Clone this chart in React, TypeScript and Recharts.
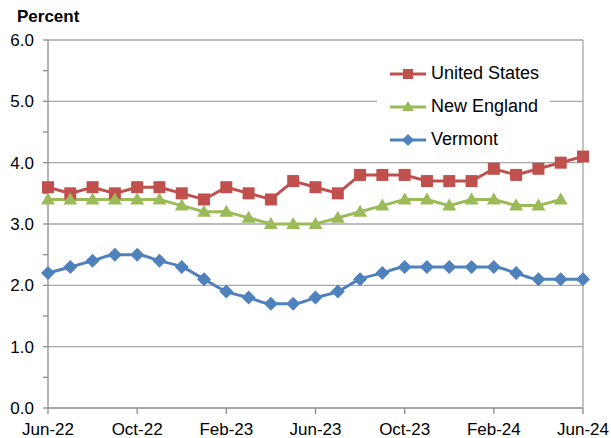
import React from 'react';
import { LineChart, Line, XAxis, YAxis, ReferenceLine } from 'recharts';

const months = ['Jun-22','Jul-22','Aug-22','Sep-22','Oct-22','Nov-22','Dec-22','Jan-23','Feb-23','Mar-23','Apr-23','May-23','Jun-23','Jul-23','Aug-23','Sep-23','Oct-23','Nov-23','Dec-23','Jan-24','Feb-24','Mar-24','Apr-24','May-24','Jun-24'];
const unitedStates = [3.6,3.5,3.6,3.5,3.6,3.6,3.5,3.4,3.6,3.5,3.4,3.7,3.6,3.5,3.8,3.8,3.8,3.7,3.7,3.7,3.9,3.8,3.9,4.0,4.1];
const newEngland = [3.4,3.4,3.4,3.4,3.4,3.4,3.3,3.2,3.2,3.1,3.0,3.0,3.0,3.1,3.2,3.3,3.4,3.4,3.3,3.4,3.4,3.3,3.3,3.4,null];
const vermont = [2.2,2.3,2.4,2.5,2.5,2.4,2.3,2.1,1.9,1.8,1.7,1.7,1.8,1.9,2.1,2.2,2.3,2.3,2.3,2.3,2.3,2.2,2.1,2.1,2.1];
const yTicks = [0,0.5,1,1.5,2,2.5,3,3.5,4,4.5,5,5.5,6];
const gridValues = [1,2,3,4,5,6];

const data = months.map((m, i) => ({ m, us: unitedStates[i], ne: newEngland[i], vt: vermont[i] }));

const RED = '#C0504D';
const GREEN = '#9BBB59';
const BLUE = '#4F81BD';
const FONT = '"Liberation Sans", Arial, sans-serif';

const Square = (p: any) => {
  const { cx, cy, key } = p;
  if (cx == null || cy == null || p.value == null) return <g key={key} />;
  return <rect key={key} x={cx - 6} y={cy - 6} width={12} height={12} fill={RED} />;
};
const Triangle = (p: any) => {
  const { cx, cy, key } = p;
  if (cx == null || cy == null || p.value == null) return <g key={key} />;
  return <polygon key={key} points={`${cx},${cy - 7} ${cx + 7},${cy + 5} ${cx - 7},${cy + 5}`} fill={GREEN} />;
};
const Diamond = (p: any) => {
  const { cx, cy, key } = p;
  if (cx == null || cy == null || p.value == null) return <g key={key} />;
  return <polygon key={key} points={`${cx},${cy - 7} ${cx + 7},${cy} ${cx},${cy + 7} ${cx - 7},${cy}`} fill={BLUE} />;
};

const legendItems = [
  { label: 'United States', color: RED, shape: 'square' },
  { label: 'New England', color: GREEN, shape: 'triangle' },
  { label: 'Vermont', color: BLUE, shape: 'diamond' },
];

const LegendBox = () => (
  <div style={{ position: 'absolute', left: 377, top: 57, width: 173, background: '#fff' }}>
    {legendItems.map((it) => (
      <div key={it.label} style={{ display: 'flex', alignItems: 'center', height: 33, fontFamily: FONT, fontSize: 18, color: '#000' }}>
        <svg width={40} height={20} style={{ marginLeft: 11 }}>
          <line x1={2} y1={10} x2={38} y2={10} stroke={it.color} strokeWidth={3} />
          {it.shape === 'square' && <rect x={15} y={5} width={10} height={10} fill={it.color} />}
          {it.shape === 'triangle' && <polygon points="20,4 26,14 14,14" fill={it.color} />}
          {it.shape === 'diamond' && <polygon points="20,4 26,10 20,16 14,10" fill={it.color} />}
        </svg>
        <span style={{ marginLeft: 3 }}>{it.label}</span>
      </div>
    ))}
  </div>
);

export default function App() {
  return (
    <div style={{ position: 'absolute', left: 0, top: 0, width: 611, height: 438, background: '#fff' }}>
      <div style={{ position: 'absolute', left: 17, top: 7, fontFamily: FONT, fontSize: 17, fontWeight: 'bold', color: '#000' }}>Percent</div>
      <LineChart width={611} height={438} data={data} margin={{ top: 40, right: 28, bottom: 0, left: 0 }}>
        {gridValues.map((v) => (
          <ReferenceLine key={v} y={v} stroke="#A6A6A6" strokeWidth={1.3} />
        ))}
        <ReferenceLine x="Jun-24" stroke="#A6A6A6" strokeWidth={1.3} />
        <XAxis
          dataKey="m"
          scale="point"
          interval={3}
          height={30}
          tickSize={6}
          tickMargin={9}
          axisLine={{ stroke: '#8C8C8C', strokeWidth: 1.3 }}
          tickLine={{ stroke: '#8C8C8C', strokeWidth: 1.3 }}
          tick={{ fontFamily: FONT, fontSize: 17, fill: '#000' }}
        />
        <YAxis
          domain={[0, 6]}
          ticks={yTicks}
          interval={0}
          width={48}
          tickSize={5}
          tickMargin={9}
          tickFormatter={(v: number) => (Number.isInteger(v) ? v.toFixed(1) : '')}
          axisLine={{ stroke: '#8C8C8C', strokeWidth: 1.3 }}
          tickLine={{ stroke: '#8C8C8C', strokeWidth: 1.3 }}
          tick={{ fontFamily: FONT, fontSize: 17, fill: '#000' }}
        />
        <Line type="linear" dataKey="us" stroke={RED} strokeWidth={3} dot={Square} activeDot={false} isAnimationActive={false} />
        <Line type="linear" dataKey="ne" stroke={GREEN} strokeWidth={3} dot={Triangle} activeDot={false} isAnimationActive={false} />
        <Line type="monotone" dataKey="vt" stroke={BLUE} strokeWidth={3} dot={Diamond} activeDot={false} isAnimationActive={false} />
      </LineChart>
      <LegendBox />
    </div>
  );
}
